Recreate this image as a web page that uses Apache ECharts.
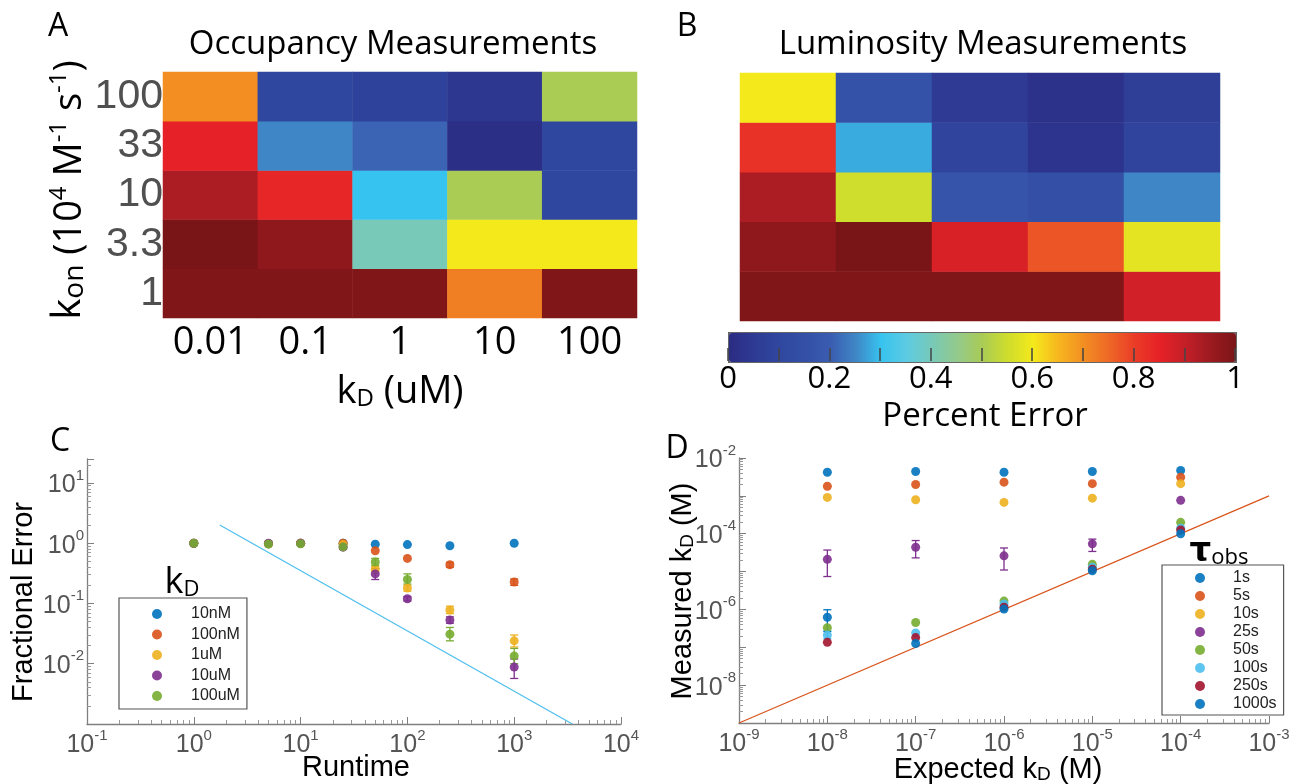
<!DOCTYPE html>
<html>
<head>
<meta charset="utf-8">
<script src="https://cdn.jsdelivr.net/npm/echarts@6/dist/echarts.min.js"></script>
<style>
html, body { margin: 0; padding: 0; background: #fff; }
#main { width: 1305px; height: 784px; }
</style>
</head>
<body>
<div id="main"></div>
<script>
// ---- heatmaps (rows listed bottom kon=1 to top kon=100) ----
var konLabels = ['1', '3.3', '10', '33', '100'];
var kdLabels = ['0.01', '0.1', '1', '10', '100'];
var occupancy = [
    [0.99, 0.99, 0.99, 0.72, 0.99],
    [1.00, 0.97, 0.40, 0.60, 0.60],
    [0.93, 0.84, 0.30, 0.50, 0.10],
    [0.85, 0.25, 0.21, 0.01, 0.10],
    [0.70, 0.10, 0.08, 0.04, 0.50]
];
var luminosity = [
    [0.99, 0.99, 0.99, 0.99, 0.88],
    [0.97, 1.00, 0.87, 0.77, 0.58],
    [0.93, 0.55, 0.17, 0.15, 0.25],
    [0.82, 0.28, 0.09, 0.03, 0.09],
    [0.60, 0.16, 0.05, 0.02, 0.07]
];
var colorbarTicks = [0, 0.2, 0.4, 0.6, 0.8, 1];
var jetColors = ['#2b2c82', '#2e3a94', '#30479f', '#3350a6', '#3a5cb0', '#3f86c6', '#37c3ef',
    '#5ccbe2', '#78c9b8', '#93c98c', '#aacc55', '#cfdd2c', '#f4e91b', '#f7b61f', '#f28e22',
    '#ee6826', '#ea3c27', '#e62127', '#c41f28', '#9c1a20', '#7a1517'];

// ---- panel C: fractional error vs runtime ----
var runtime = [1, 5, 10, 25, 50, 100, 250, 1000];
var errNames = ['10nM', '100nM', '1uM', '10uM', '100uM'];
var errColors = ['#0072BD', '#D95319', '#EDB120', '#7E2F8E', '#77AC30'];
var err10nM = [1.0, 0.98, 1.0, 1.0, 0.96, 0.95, 0.91, 1.0];
var err100nM = [1.0, 0.98, 1.0, 1.0, 0.75, 0.56, 0.44, 0.227];
var err1uM = [1.0, 0.98, 1.0, 0.95, 0.37, 0.18, 0.078, 0.024];
var err10uM = [1.0, 1.0, 1.0, 0.86, 0.31, 0.12, 0.053, 0.0088];
var err100uM = [1.0, 0.97, 0.98, 0.87, 0.49, 0.25, 0.031, 0.0135];
var lo100nM = [null, null, null, null, null, null, 0.40, 0.20];
var hi100nM = [null, null, null, null, null, null, 0.48, 0.255];
var lo1uM = [null, null, null, null, 0.34, 0.16, 0.068, 0.019];
var hi1uM = [null, null, null, null, 0.41, 0.20, 0.090, 0.030];
var lo10uM = [null, null, null, 0.80, 0.25, 0.11, 0.047, 0.0057];
var hi10uM = [null, null, null, 0.90, 0.38, 0.13, 0.060, 0.012];
var lo100uM = [null, null, null, null, 0.43, 0.21, 0.024, 0.010];
var hi100uM = [null, null, null, null, 0.56, 0.31, 0.040, 0.018];
var refLineC = [[1.75, 2.0], [3500, 0.001]];

// ---- panel D: measured vs expected kD ----
var expectedKd = [1e-8, 1e-7, 1e-6, 1e-5, 1e-4];
var tauNames = ['1s', '5s', '10s', '25s', '50s', '100s', '250s', '1000s'];
var tauColors = ['#0072BD', '#D95319', '#EDB120', '#7E2F8E', '#77AC30', '#4DBEEE', '#A2142F', '#0072BD'];
var kd1s = [4.2e-3, 4.4e-3, 4.2e-3, 4.4e-3, 4.7e-3];
var kd5s = [1.8e-3, 2.0e-3, 2.3e-3, 2.1e-3, 3.1e-3];
var kd10s = [9.1e-4, 7.9e-4, 6.7e-4, 8.7e-4, 2.1e-3];
var kd25s = [2.1e-5, 4.4e-5, 2.6e-5, 5.4e-5, 7.6e-4];
var kd50s = [3.3e-7, 4.5e-7, 1.66e-6, 1.55e-5, 2.0e-4];
var kd100s = [2.1e-7, 2.4e-7, 1.4e-6, 1.3e-5, 1.4e-4];
var kd250s = [1.35e-7, 1.8e-7, 1.15e-6, 1.15e-5, 1.25e-4];
var kd1000s = [6.2e-7, 1.26e-7, 1.02e-6, 1.05e-5, 1.0e-4];
var lo25s = [7.4e-6, 2.3e-5, 1.1e-5, 3.4e-5, null];
var hi25s = [3.7e-5, 6.6e-5, 4.2e-5, 7.2e-5, null];
var lo100s = [1.7e-7, null, null, null, null];
var hi100s = [2.7e-7, null, null, null, null];
var lo1000s = [2.6e-7, null, null, null, null];
var hi1000s = [9.8e-7, null, null, null, null];
var refLineD = [[1e-9, 1e-9], [1e-3, 1e-3]];

var sansFont = 'Open Sans';
var plainFont = 'Liberation Sans';
var axisGray = '#7f7f7f';
var labelGray = '#555';

function heatData(rows) {
    var out = [];
    rows.forEach(function (row, y) {
        row.forEach(function (v, x) { out.push([x, y, v]); });
    });
    return out;
}

function pairs(xs, ys) {
    return xs.map(function (x, i) { return [x, ys[i]]; });
}

function errData(xs, lo, hi) {
    var out = [];
    xs.forEach(function (x, i) {
        if (lo[i] != null) out.push([x, lo[i], hi[i]]);
    });
    return out;
}

function renderErr(params, api) {
    var x = api.value(0);
    var p1 = api.coord([x, api.value(1)]);
    var p2 = api.coord([x, api.value(2)]);
    var w = 4;
    var st = { stroke: api.visual('color'), lineWidth: 1.3 };
    return {
        type: 'group',
        children: [
            { type: 'line', shape: { x1: p1[0], y1: p1[1], x2: p2[0], y2: p2[1] }, style: st },
            { type: 'line', shape: { x1: p1[0] - w, y1: p1[1], x2: p1[0] + w, y2: p1[1] }, style: st },
            { type: 'line', shape: { x1: p2[0] - w, y1: p2[1], x2: p2[0] + w, y2: p2[1] }, style: st }
        ]
    };
}

function powLabel(hideOdd, hideBelow) {
    return function (v) {
        var l = Math.log10(v);
        var e = Math.round(l);
        if (Math.abs(l - e) > 0.01) return '';
        if (hideOdd && e % 2 !== 0) return '';
        if (hideBelow != null && e <= hideBelow) return '';
        return '{b|10}{e|' + e + '}';
    };
}

var powRich = {
    b: { fontSize: 25, fontFamily: plainFont, color: labelGray, lineHeight: 30, verticalAlign: 'bottom' },
    e: { fontSize: 15, fontFamily: plainFont, color: labelGray, lineHeight: 15, verticalAlign: 'top' }
};

function logAxis(grid, min, max, labelFn, margin) {
    return {
        type: 'log', gridIndex: grid, min: min, max: max, logBase: 10,
        axisLine: { show: true, lineStyle: { color: axisGray, width: 1.3 } },
        axisTick: { show: true, inside: true, length: 7, lineStyle: { color: axisGray } },
        minorTick: { show: true, splitNumber: 9, length: 4, lineStyle: { color: '#999' } },
        splitLine: { show: false },
        axisLabel: { formatter: labelFn, rich: powRich, margin: margin, showMaxLabel: true }
    };
}

function hiddenCat(grid, data) {
    return {
        type: 'category', gridIndex: grid, data: data,
        axisLine: { show: false }, axisTick: { show: false }, axisLabel: { show: false }, splitLine: { show: false }
    };
}

var series = [
    { type: 'heatmap', xAxisIndex: 0, yAxisIndex: 0, data: heatData(occupancy), silent: true },
    { type: 'heatmap', xAxisIndex: 1, yAxisIndex: 1, data: heatData(luminosity), silent: true }
];

// panel C
var cVals = [err10nM, err100nM, err1uM, err10uM, err100uM];
var cLo = [null, lo100nM, lo1uM, lo10uM, lo100uM];
var cHi = [null, hi100nM, hi1uM, hi10uM, hi100uM];
series.push({
    type: 'line', name: 'refC', xAxisIndex: 3, yAxisIndex: 3, data: refLineC, symbol: 'none',
    lineStyle: { color: '#4DBEEE', width: 1.2 }, silent: true, z: 1
});
errNames.forEach(function (n, i) {
    if (cLo[i]) {
        series.push({
            type: 'custom', name: n + ' err', xAxisIndex: 3, yAxisIndex: 3, renderItem: renderErr,
            data: errData(runtime, cLo[i], cHi[i]), itemStyle: { color: errColors[i] }, silent: true, z: 2
        });
    }
});
errNames.forEach(function (n, i) {
    series.push({
        type: 'scatter', name: n, xAxisIndex: 3, yAxisIndex: 3, data: pairs(runtime, cVals[i]),
        symbol: 'circle', symbolSize: 9, z: 3,
        itemStyle: { color: errColors[i], opacity: 0.9 }
    });
});

// panel D
var dVals = [kd1s, kd5s, kd10s, kd25s, kd50s, kd100s, kd250s, kd1000s];
series.push({
    type: 'line', name: 'refD', xAxisIndex: 4, yAxisIndex: 4, data: refLineD, symbol: 'none',
    lineStyle: { color: '#D95319', width: 1.2 }, silent: true, z: 1
});
[[3, lo25s, hi25s], [5, lo100s, hi100s], [7, lo1000s, hi1000s]].forEach(function (e) {
    series.push({
        type: 'custom', name: tauNames[e[0]] + ' err', xAxisIndex: 4, yAxisIndex: 4, renderItem: renderErr,
        data: errData(expectedKd, e[1], e[2]), itemStyle: { color: tauColors[e[0]] }, silent: true, z: 2
    });
});
tauNames.forEach(function (n, i) {
    series.push({
        type: 'scatter', name: n, xAxisIndex: 4, yAxisIndex: 4, data: pairs(expectedKd, dVals[i]),
        symbol: 'circle', symbolSize: 9, z: 3,
        itemStyle: { color: tauColors[i], opacity: 0.9 }
    });
});

function txt(x, y, text, rich, extra) {
    var el = {
        type: 'text', x: x, y: y, z: 100,
        style: { text: text, rich: rich, align: 'center', verticalAlign: 'middle' }
    };
    if (extra) for (var k in extra) el[k] = extra[k];
    return el;
}

function letter(x, y, s) {
    return txt(x, y, '{n|' + s + '}', { n: { fontSize: 32, fontFamily: sansFont, color: '#000' } });
}

var graphics = [
    letter(58, 27, 'A'), letter(687, 27, 'B'), letter(60, 442, 'C'), letter(677, 449, 'D'),
    txt(393, 45, '{n|Occupancy Measurements}', { n: { fontSize: 33, fontFamily: sansFont, color: '#000' } }),
    txt(983, 45, '{n|Luminosity Measurements}', { n: { fontSize: 33, fontFamily: sansFont, color: '#000' } }),
    txt(68, 190, '{k|k}{s|on}{n| (10}{e|4}{n| M}{e|-1}{n| s}{e|-1}{n|)}', {
        k: { fontSize: 40, fontFamily: sansFont, color: '#000', lineHeight: 42, verticalAlign: 'bottom' },
        s: { fontSize: 28, fontFamily: sansFont, color: '#000', lineHeight: 28, verticalAlign: 'bottom' },
        n: { fontSize: 38, fontFamily: sansFont, color: '#000', lineHeight: 42, verticalAlign: 'bottom' },
        e: { fontSize: 24, fontFamily: sansFont, color: '#000', lineHeight: 24, verticalAlign: 'top' }
    }, { rotation: Math.PI / 2 }),
    txt(400, 391, '{k|k}{d|D}{n| (uM)}', {
        k: { fontSize: 38, fontFamily: sansFont, color: '#000', lineHeight: 40, verticalAlign: 'bottom' },
        d: { fontSize: 24, fontFamily: sansFont, color: '#000', lineHeight: 30, verticalAlign: 'bottom' },
        n: { fontSize: 38, fontFamily: sansFont, color: '#000', lineHeight: 40, verticalAlign: 'bottom' }
    }),
    txt(985, 417, '{n|Percent Error}', { n: { fontSize: 33, fontFamily: sansFont, color: '#000' } }),
    txt(24, 602, '{n|Fractional Error}', { n: { fontSize: 29, fontFamily: plainFont, color: labelGray } },
        { rotation: Math.PI / 2 }),
    txt(356, 768, '{n|Runtime}', { n: { fontSize: 29, fontFamily: plainFont, color: labelGray } }),
    txt(681, 591, '{n|Measured k}{d|D}{n| (M)}', {
        n: { fontSize: 29, fontFamily: plainFont, color: labelGray, lineHeight: 32, verticalAlign: 'bottom' },
        d: { fontSize: 19, fontFamily: plainFont, color: labelGray, lineHeight: 25, verticalAlign: 'bottom' }
    }, { rotation: Math.PI / 2 }),
    txt(998, 768, '{n|Expected k}{d|D}{n| (M)}', {
        n: { fontSize: 29, fontFamily: plainFont, color: labelGray, lineHeight: 32, verticalAlign: 'bottom' },
        d: { fontSize: 19, fontFamily: plainFont, color: labelGray, lineHeight: 25, verticalAlign: 'bottom' }
    }),
    txt(182, 582, '{k|k}{d|D}', {
        k: { fontSize: 36, fontFamily: sansFont, color: '#000', lineHeight: 38, verticalAlign: 'bottom' },
        d: { fontSize: 22, fontFamily: sansFont, color: '#000', lineHeight: 30, verticalAlign: 'bottom' }
    }),
    txt(1219, 551, '{t|τ}{o|obs}', {
        t: { fontSize: 34, fontWeight: 'bold', fontFamily: 'DejaVu Sans', color: '#000', lineHeight: 36, verticalAlign: 'bottom' },
        o: { fontSize: 22, fontFamily: sansFont, color: '#000', lineHeight: 28, verticalAlign: 'bottom' }
    })
];

var chart = echarts.init(document.getElementById('main'), null, { renderer: 'canvas' });
chart.setOption({
    animation: false,
    backgroundColor: '#fff',
    grid: [
        { left: 163, top: 72, width: 474, height: 246 },
        { left: 740, top: 73, width: 480, height: 248 },
        { left: 728, top: 332, width: 507, height: 29 },
        { left: 87, top: 459, width: 534, height: 265 },
        { left: 739, top: 458, width: 530, height: 265 }
    ],
    xAxis: [
        {
            type: 'category', gridIndex: 0, data: kdLabels,
            axisLine: { show: false }, axisTick: { show: false }, splitLine: { show: false },
            axisLabel: { interval: 0, fontSize: 38, fontFamily: sansFont, color: '#000', margin: 6 }
        },
        hiddenCat(1, kdLabels),
        {
            type: 'value', gridIndex: 2, min: 0, max: 1, interval: 0.1, z: 10,
            axisLine: { show: false }, splitLine: { show: false },
            axisTick: { show: true, inside: true, length: 13, lineStyle: { color: '#444', width: 1.5 } },
            axisLabel: {
                fontSize: 31, fontFamily: sansFont, color: '#000', margin: 3,
                formatter: function (v) {
                    var r = Math.round(v * 10) / 10;
                    return colorbarTicks.indexOf(r) >= 0 ? String(r) : '';
                }
            }
        },
        logAxis(3, 0.1, 10000, powLabel(false, null), 4),
        logAxis(4, 1e-9, 1e-3, powLabel(false, null), 4)
    ],
    yAxis: [
        {
            type: 'category', gridIndex: 0, data: konLabels,
            axisLine: { show: false }, axisTick: { show: false }, splitLine: { show: false },
            axisLabel: { interval: 0, fontSize: 41, fontFamily: plainFont, color: '#505050', margin: 0 }
        },
        hiddenCat(1, konLabels),
        { type: 'value', gridIndex: 2, min: 0, max: 1, show: false },
        logAxis(3, 0.001, 25, powLabel(false, -3), 3),
        logAxis(4, 1e-9, 1e-2, powLabel(true, null), 3)
    ],
    visualMap: {
        type: 'continuous', min: 0, max: 1, seriesIndex: [0, 1], orient: 'horizontal',
        left: 728, top: 332, itemWidth: 29, itemHeight: 507, calculable: false,
        padding: 0, borderColor: '#666', borderWidth: 2, hoverLink: false,
        inRange: { color: jetColors }
    },
    legend: [
        {
            data: errNames, orient: 'vertical', left: 119, top: 598,
            padding: [8, 7, 5, 33], itemWidth: 10, itemHeight: 10, itemGap: 4.5, icon: 'circle',
            borderColor: '#555', borderWidth: 1.2, selectedMode: false,
            textStyle: { fontSize: 16, fontFamily: plainFont, color: '#222', padding: [0, 0, 0, 24] }
        },
        {
            data: tauNames, orient: 'vertical', left: 1162, top: 565,
            padding: [5, 7, 3, 33], itemWidth: 10, itemHeight: 10, itemGap: 2, icon: 'circle',
            borderColor: '#555', borderWidth: 1.2, selectedMode: false,
            textStyle: { fontSize: 16, fontFamily: plainFont, color: '#222', padding: [0, 0, 0, 23] }
        }
    ],
    graphic: graphics,
    series: series
});
</script>
</body>
</html>
